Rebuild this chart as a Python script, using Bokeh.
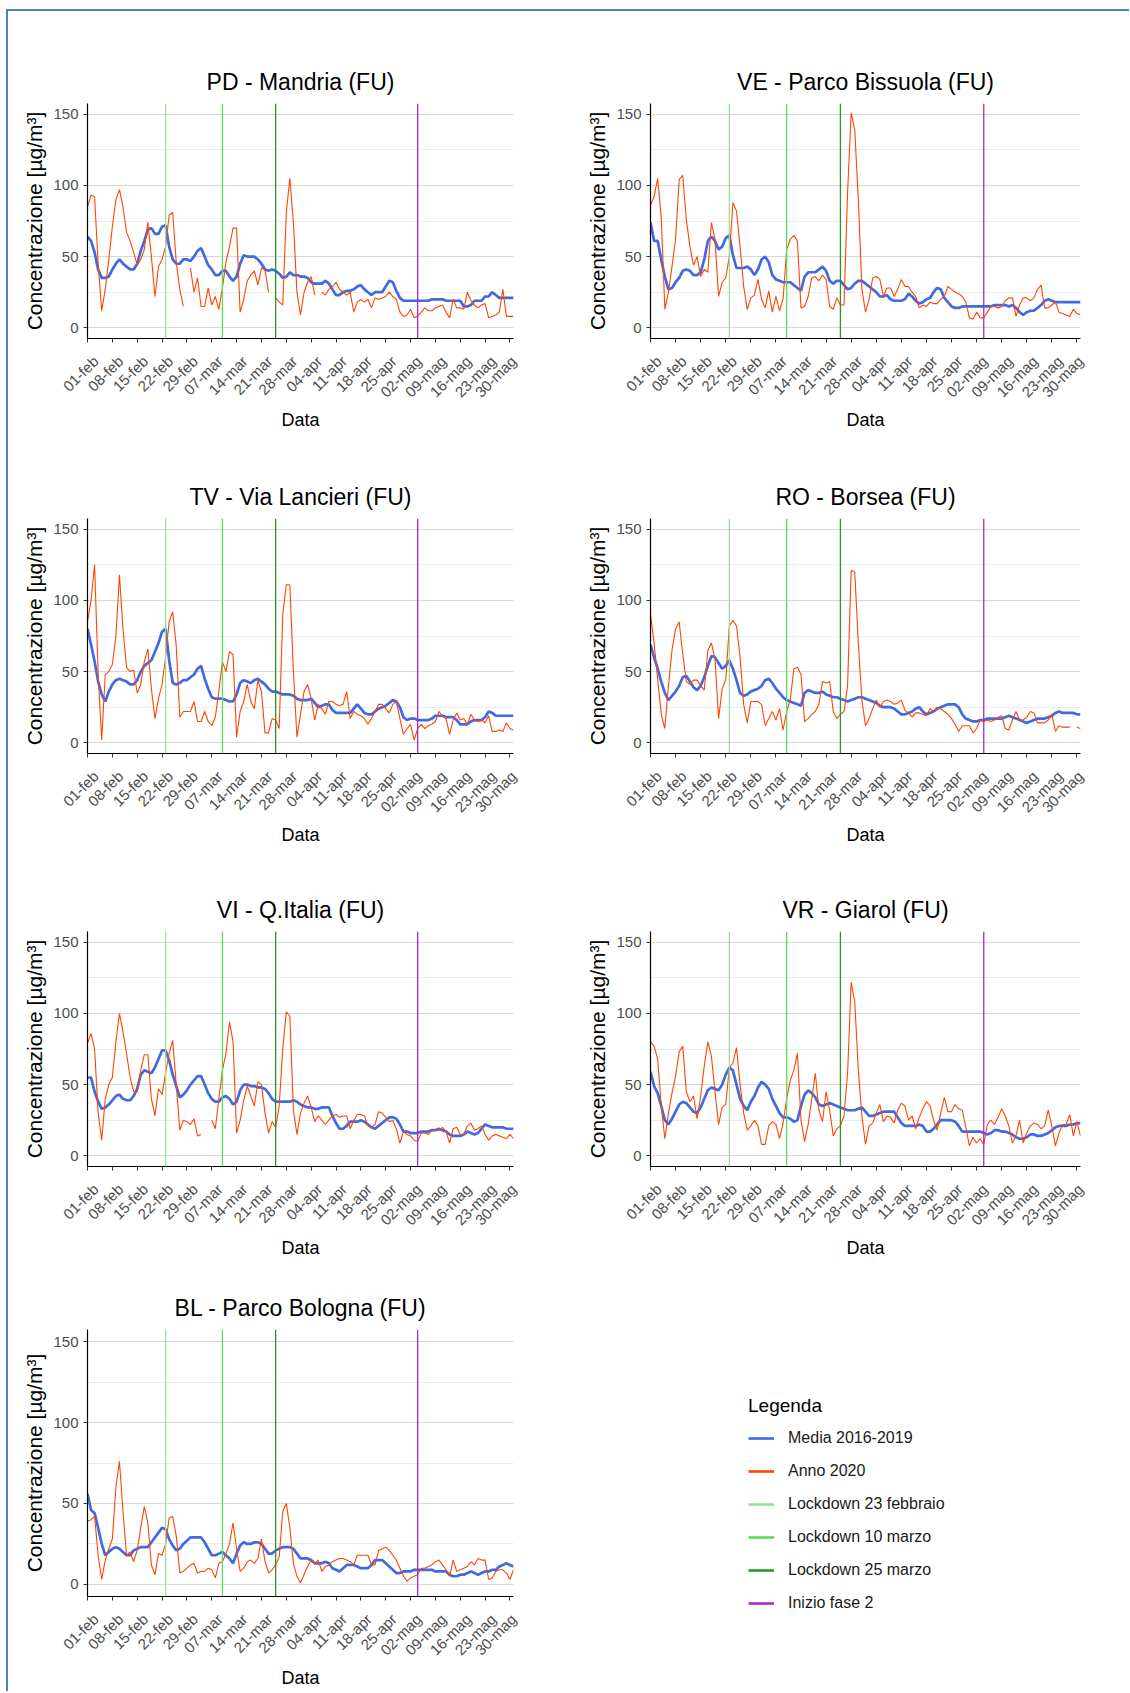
import math
import pandas as pd
from bokeh.plotting import figure
from bokeh.models import Range1d, FixedTicker, Span, Legend, LegendItem, LinearAxis
from bokeh.layouts import row, column
from bokeh.embed import file_html
from bokeh.resources import INLINE

nan = float("nan")

# ---------------- data ----------------
start_date = "2020-02-01"
end_date = "2020-05-31"
last_tick = "2020-05-30"
month_names = {2: "feb", 3: "mar", 4: "apr", 5: "mag"}

y_ticks = [0, 50, 100, 150]
y_minor = [25, 75, 125]

event_dates = ["2020-02-23", "2020-03-10", "2020-03-25", "2020-05-04"]
event_names = ["Lockdown 23 febbraio", "Lockdown 10 marzo", "Lockdown 25 marzo", "Inizio fase 2"]
event_colors = ["#98E098", "#55E055", "#2A952A", "#A828D0"]

series_names = ["Media 2016-2019", "Anno 2020"]
series_colors = ["#4169E1", "#FF4500"]

titles = ["PD - Mandria (FU)", "VE - Parco Bissuola (FU)", "TV - Via Lancieri (FU)",
          "RO - Borsea (FU)", "VI - Q.Italia (FU)", "VR - Giarol (FU)", "BL - Parco Bologna (FU)"]

pd_2020 = [85, 93, 92, 45, 12, 27, 48, 71, 90, 97,
           85, 67, 61, 53, 44, 48, 55, 74, 50, 22,
           43, 48, 57, 79, 81, 46, 27, 15, nan, 42,
           25, 35, 15, 15, 28, 16, 22, 13, 28, 46,
           57, 70, 70, 11, 20, 33, 37, 40, 30, 42,
           41, 25, nan, 21, 18, 16, 81, 105, 74, 25,
           9, 25, 32, 36, 23, nan, 25, 23, 27, 29,
           32, 27, 25, 23, 25, 11, 18, 20, 18, 20,
           14, 21, 20, 21, 22, 25, 22, 20, 11, 8,
           9, 13, 7, 8, 11, 14, 12, 12, 14, 15,
           16, 11, 7, 20, 14, 14, 13, 25, 19, 16,
           14, 16, 17, 7, 8, 9, 11, 27, 8, 8,
           8]
pd_media = [64, 61, 53, 41, 35, 35, 36, 41, 45, 48,
            45, 43, 41, 41, 45, 54, 61, 69, 70, 66,
            66, 71, 72, 57, 48, 45, 45, 48, 48, 47,
            50, 54, 56, 50, 44, 41, 37, 37, 40, 40,
            36, 33, 36, 45, 51, 50, 50, 50, 48, 45,
            41, 40, 41, 40, 38, 35, 36, 39, 37, 37,
            36, 36, 35, 32, 31, 31, 31, 33, 31, 27,
            23, 23, 25, 26, 26, 27, 29, 30, 27, 25,
            23, 25, 25, 25, 29, 33, 32, 26, 21, 19,
            19, 19, 19, 19, 19, 19, 19, 20, 20, 20,
            20, 19, 19, 19, 19, 19, 15, 15, 16, 19,
            19, 19, 22, 22, 25, 23, 21, 21, 21, 21,
            21]

ve_2020 = [86, 92, 105, 78, 13, 25, 43, 62, 104, 107,
           76, 57, 44, 50, 36, 41, 39, 74, 62, 22,
           32, 35, 50, 88, 82, 57, 29, 13, 21, 23,
           34, 20, 14, 26, 11, 22, 12, 20, 55, 62,
           65, 61, 14, 15, 22, 35, 36, 33, 37, 34,
           15, 13, 21, 16, 16, 95, 151, 139, 90, 27,
           11, 20, 35, 36, 34, 22, 28, 28, 22, 27,
           34, 29, 29, 25, 22, 14, 16, 15, 18, 17,
           17, 20, 22, 29, 27, 25, 24, 22, 18, 7,
           6, 11, 7, 7, 11, 15, 15, 14, 15, 19,
           21, 21, 8, 16, 21, 21, 19, 21, 27, 30,
           14, 14, 16, 18, 11, 10, 9, 8, 13, 10,
           9]
ve_media = [74, 61, 61, 48, 36, 27, 28, 32, 35, 40,
            41, 40, 37, 37, 39, 48, 61, 64, 61, 55,
            57, 63, 65, 51, 42, 42, 42, 43, 41, 37,
            41, 48, 50, 46, 37, 34, 33, 32, 32, 32,
            30, 28, 26, 36, 39, 39, 39, 41, 43, 40,
            33, 31, 33, 33, 30, 27, 28, 31, 33, 33,
            31, 29, 27, 25, 22, 22, 23, 20, 19, 19,
            19, 20, 24, 22, 19, 17, 18, 20, 21, 25,
            28, 27, 21, 18, 15, 14, 14, 15, 15, 15,
            15, 15, 15, 15, 15, 15, 16, 16, 16, 16,
            15, 16, 14, 11, 9, 11, 12, 12, 14, 16,
            19, 20, 19, 18, 18, 18, 18, 18, 18, 18,
            18]

tv_2020 = [85, 100, 125, 48, 2, 48, 50, 55, 75, 118,
           80, 53, 50, 51, 35, 41, 57, 66, 38, 17,
           31, 41, 60, 85, 92, 68, 18, 22, 22, 22,
           29, 15, 15, 22, 15, 12, 18, 36, 57, 50,
           64, 62, 4, 22, 29, 41, 29, 24, 44, 36,
           7, 7, 17, 16, 10, 90, 111, 111, 50, 4,
           20, 36, 41, 31, 16, 27, 24, 20, 29, 29,
           27, 26, 27, 36, 17, 22, 20, 19, 17, 13,
           17, 22, 27, 27, 24, 21, 27, 29, 17, 6,
           10, 13, 2, 10, 13, 10, 12, 13, 15, 22,
           19, 17, 6, 16, 21, 16, 17, 13, 20, 16,
           15, 16, 14, 19, 8, 8, 9, 8, 14, 10,
           9]
tv_media = [80, 69, 57, 43, 34, 29, 36, 41, 44, 45,
            44, 43, 41, 41, 44, 50, 54, 56, 58, 64,
            70, 78, 80, 58, 42, 41, 42, 44, 44, 46,
            48, 52, 54, 45, 38, 32, 31, 31, 31, 30,
            29, 29, 34, 42, 44, 43, 42, 44, 45, 43,
            41, 38, 36, 36, 35, 34, 34, 34, 33, 31,
            30, 30, 30, 31, 28, 25, 26, 27, 27, 23,
            21, 21, 21, 21, 21, 24, 27, 24, 21, 20,
            20, 22, 24, 25, 26, 28, 30, 29, 25, 18,
            16, 17, 17, 16, 16, 16, 16, 17, 19, 19,
            19, 18, 18, 18, 16, 13, 13, 13, 15, 16,
            16, 16, 18, 22, 21, 19, 19, 19, 19, 19,
            19]

ro_2020 = [90, 70, 45, 20, 10, 40, 65, 80, 85, 62,
           43, 41, 44, 44, 40, 37, 65, 70, 59, 17,
           38, 44, 82, 86, 82, 60, 27, 14, 29, 29,
           29, 27, 12, 17, 22, 16, 24, 9, 22, 30,
           52, 53, 48, 15, 17, 20, 22, 27, 43, 42,
           43, 22, 17, 20, 22, 40, 121, 120, 70, 30,
           12, 17, 24, 30, 25, 29, 30, 29, 27, 28,
           30, 23, 21, 18, 21, 21, 20, 19, 24, 22,
           25, 24, 22, 20, 17, 13, 8, 12, 12, 12,
           7, 10, 16, 15, 16, 15, 16, 18, 19, 10,
           9, 16, 22, 16, 16, 18, 22, 21, 14, 14,
           14, 16, 20, 8, 12, 11, 11, 11, nan, 11,
           10]
ro_media = [69, 60, 52, 43, 35, 30, 33, 36, 40, 46,
            47, 43, 39, 37, 40, 46, 54, 61, 60, 56,
            52, 54, 58, 52, 44, 35, 33, 34, 36, 37,
            38, 40, 44, 45, 42, 38, 35, 32, 30, 29,
            28, 27, 26, 35, 37, 36, 35, 35, 36, 34,
            33, 32, 32, 31, 30, 29, 30, 31, 32, 32,
            31, 30, 29, 28, 26, 25, 25, 25, 24, 22,
            20, 20, 21, 22, 24, 25, 22, 20, 21, 22,
            24, 25, 26, 27, 27, 27, 25, 20, 17, 16,
            15, 15, 16, 16, 17, 17, 17, 17, 17, 18,
            19, 18, 17, 16, 15, 14, 15, 16, 17, 17,
            17, 18, 19, 21, 22, 21, 21, 21, 21, 20,
            20]

vi_2020 = [79, 86, 75, 30, 11, 40, 50, 55, 80, 100,
           87, 72, 55, 45, 45, 60, 71, 71, 40, 28,
           47, 43, 58, 72, 81, 50, 18, 25, 24, 22,
           26, 14, 15, nan, nan, 25, 19, 40, 60, 72,
           94, 80, 16, 25, 39, 49, 42, 35, 52, 50,
           30, 16, 24, 20, 35, 75, 101, 98, 32, 15,
           30, 37, 42, 34, 24, 28, 25, 22, 25, 28,
           29, 27, 28, 28, 19, 25, 29, 29, 28, 21,
           20, 22, 31, 30, 27, 24, 25, 19, 9, 17,
           15, 14, 11, 10, 16, 16, 15, 18, 18, 18,
           20, 17, 9, 19, 20, 15, 15, 21, 23, 18,
           19, 21, 15, 11, 14, 15, 14, 13, 12, 15,
           12]
vi_media = [55, 55, 45, 38, 33, 34, 36, 39, 42, 43,
            40, 39, 39, 42, 47, 57, 60, 59, 58, 62,
            68, 74, 74, 67, 57, 49, 41, 43, 46, 50,
            53, 56, 56, 50, 44, 40, 38, 38, 41, 42,
            40, 36, 38, 46, 50, 50, 49, 49, 48, 48,
            47, 44, 40, 38, 38, 38, 38, 38, 39, 38,
            36, 35, 34, 34, 33, 33, 34, 34, 34, 28,
            23, 19, 19, 21, 24, 24, 24, 25, 24, 22,
            20, 19, 21, 23, 25, 27, 27, 26, 22, 17,
            17, 16, 16, 16, 17, 17, 17, 18, 18, 19,
            18, 17, 15, 14, 14, 14, 15, 17, 16, 15,
            16, 19, 22, 21, 20, 20, 20, 20, 19, 19,
            19]

vr_2020 = [80, 77, 68, 35, 12, 30, 44, 56, 73, 77,
           45, 38, 42, 26, 42, 63, 80, 70, 45, 22,
           34, 36, 62, 65, 76, 50, 30, 18, 21, 25,
           21, 8, 8, 21, 24, 22, 12, 23, 40, 53,
           60, 72, 25, 10, 22, 40, 58, 32, 24, 45,
           32, 14, 19, 21, 28, 58, 122, 108, 60, 28,
           8, 21, 23, 30, 36, 24, 28, 27, 23, 32,
           37, 35, 25, 28, 19, 27, 33, 38, 35, 25,
           18, 30, 41, 31, 31, 36, 33, 32, 20, 7,
           13, 9, 12, 8, 22, 25, 22, 27, 33, 28,
           21, 9, 14, 25, 9, 16, 21, 23, 22, 19,
           21, 32, 21, 7, 16, 22, 22, 29, 14, 24,
           14]
vr_media = [59, 49, 44, 35, 25, 22, 26, 31, 36, 38,
            37, 34, 31, 30, 34, 40, 46, 48, 47, 46,
            50, 57, 62, 60, 50, 40, 35, 32, 38, 42,
            48, 52, 50, 47, 40, 35, 30, 27, 27, 26,
            24, 25, 35, 43, 46, 44, 41, 36, 35, 36,
            37, 36, 35, 34, 33, 32, 32, 32, 33, 34,
            31, 28, 28, 29, 30, 31, 31, 31, 31, 27,
            23, 21, 21, 21, 21, 22, 21, 17, 17, 19,
            22, 25, 25, 25, 25, 24, 21, 17, 17, 17,
            17, 17, 17, 16, 15, 16, 18, 18, 17, 17,
            16, 15, 13, 12, 12, 13, 15, 15, 14, 14,
            15, 16, 18, 20, 21, 21, 21, 22, 22, 23,
            23]

bl_2020 = [39, 40, 42, 18, 3, 15, 22, 28, 60, 76,
           45, 18, 20, 14, 21, 35, 48, 38, 12, 6,
           19, 18, 25, 41, 42, 30, 7, 8, 10, 12,
           13, 7, 8, 8, 10, 9, 4, 13, 14, 19,
           25, 38, 22, 8, 10, 14, 15, 13, 16, 28,
           14, 7, 9, 12, 17, 45, 50, 35, 13, 5,
           1, 6, 11, 15, 13, 15, 8, 11, 12, 14,
           15, 16, 16, 15, 14, 12, 18, 18, 18, 18,
           12, 12, 21, 22, 23, 21, 18, 15, 10, 5,
           2, 4, 5, 6, 10, 10, 11, 12, 14, 15,
           12, 9, 5, 15, 8, 9, 10, 11, 14, 12,
           16, 15, 15, 3, 4, 8, 9, 9, 7, 3,
           9]
bl_media = [56, 46, 44, 35, 25, 18, 20, 22, 23, 22,
            20, 18, 18, 21, 22, 23, 23, 23, 26, 29,
            32, 35, 34, 28, 24, 21, 22, 25, 27, 29,
            29, 29, 29, 26, 22, 18, 18, 19, 20, 18,
            16, 13, 19, 24, 26, 25, 25, 26, 26, 25,
            22, 19, 19, 21, 22, 23, 23, 23, 22, 19,
            16, 16, 16, 15, 13, 13, 13, 14, 13, 10,
            9, 8, 10, 12, 12, 12, 11, 10, 10, 10,
            12, 15, 15, 15, 13, 11, 9, 7, 7, 8,
            8, 8, 9, 9, 9, 9, 9, 9, 8, 8,
            8, 8, 6, 5, 5, 6, 6, 7, 8, 7,
            6, 7, 8, 8, 9, 9, 11, 12, 13, 12,
            11]

media_all = [pd_media, ve_media, tv_media, ro_media, vi_media, vr_media, bl_media]
anno_all = [pd_2020, ve_2020, tv_2020, ro_2020, vi_2020, vr_2020, bl_2020]

# ---------------- derived axes ----------------
dates = pd.date_range(start_date, end_date, freq="D")
day_x = [(d - dates[0]).days for d in dates]
tick_dates = pd.date_range(start_date, last_tick, freq="7D")
tick_x = [(d - dates[0]).days for d in tick_dates]
tick_labels = [f"{d.day:02d}-{month_names[d.month]}" for d in tick_dates]
event_x = [(pd.Timestamp(d) - dates[0]).days for d in event_dates]

FONT = "Liberation Sans"
LABEL_SHIFT_DAYS = 2.3  # rotated labels hang slightly right of their tick, as in the original
label_pos = [round(min(t + LABEL_SHIFT_DAYS, day_x[-1]), 2) for t in tick_x]


def panel(title, media, anno, left_col, frame_h, top, bottom):
    if left_col:
        bl, fw, br = 79, 426, 52
    else:
        bl, fw, br = 85, 430, 40
    p = figure(frame_width=fw, frame_height=frame_h,
               min_border_left=bl, min_border_right=br,
               min_border_top=top, min_border_bottom=bottom,
               x_range=Range1d(day_x[0], day_x[-1]), y_range=Range1d(-7.5, 157.5),
               toolbar_location=None, output_backend="svg", title=title)
    p.outline_line_color = None
    p.background_fill_color = "white"
    p.border_fill_color = "white"
    p.title.align = "center"
    p.title.text_font = FONT
    p.title.text_font_size = "23px"
    p.title.text_font_style = "normal"
    p.title.text_color = "#000000"
    p.title.standoff = 17

    p.line(day_x, media, line_color=series_colors[0], line_width=2.7)
    p.line(day_x, anno, line_color=series_colors[1], line_width=1.1)
    for ex, ec in zip(event_x, event_colors):
        p.add_layout(Span(location=ex, dimension="height", line_color=ec, line_width=1.3))

    # primary x axis: line + tick marks only
    xa = p.xaxis[0]
    xa.ticker = FixedTicker(ticks=tick_x)
    xa.major_label_text_font_size = "0px"
    xa.major_label_text_color = None
    xa.major_label_standoff = 0
    # second x axis below it: rotated date labels and the axis title
    xb = LinearAxis(ticker=FixedTicker(ticks=label_pos),
                    major_label_overrides={lp: l for lp, l in zip(label_pos, tick_labels)},
                    major_label_orientation=math.pi / 4,
                    axis_line_color=None, major_tick_line_color=None,
                    minor_tick_line_color=None, major_tick_in=0, major_tick_out=0,
                    major_label_standoff=16,
                    major_label_text_font=FONT, major_label_text_font_size="15px",
                    major_label_text_color="#4D4D4D",
                    axis_label="Data", axis_label_text_font=FONT,
                    axis_label_text_font_size="18px", axis_label_text_font_style="normal",
                    axis_label_text_color="#000000", axis_label_standoff=1)
    p.add_layout(xb, "below")

    p.yaxis.ticker = FixedTicker(ticks=y_ticks, minor_ticks=y_minor)
    p.yaxis.axis_label = "Concentrazione [µg/m³]"
    for ax in (xa, p.yaxis[0]):
        ax.axis_line_color = "black"
        ax.axis_line_width = 1.2
        ax.major_tick_line_color = "#333333"
        ax.major_tick_in = 0
        ax.major_tick_out = 4
        ax.minor_tick_line_color = None
    ya = p.yaxis[0]
    ya.major_label_text_font = FONT
    ya.major_label_text_color = "#4D4D4D"
    ya.major_label_text_font_size = "15px"
    ya.major_label_standoff = 5
    ya.axis_label_text_font = FONT
    ya.axis_label_text_font_style = "normal"
    ya.axis_label_text_color = "#000000"
    ya.axis_label_text_font_size = "21px"
    ya.axis_label_standoff = 4
    p.xgrid.grid_line_color = None
    p.ygrid.grid_line_color = "#D6D6D6"
    p.ygrid.grid_line_width = 1.1
    p.ygrid.minor_grid_line_color = "#EBEBEB"
    p.ygrid.minor_grid_line_width = 1.1
    return p


rows_spec = [(235, 92, 95), (235, 85, 95), (235, 83, 95), (267, 68, 85)]
panels = []
for i, (t, m, a) in enumerate(zip(titles, media_all, anno_all)):
    fh, top, bottom = rows_spec[i // 2]
    panels.append(panel(t, m, a, i % 2 == 0, fh, top, bottom))

# legend panel: frame top aligned with its row neighbour, frame reaching the bottom
lf = figure(frame_width=372, frame_height=352, min_border_left=183, min_border_top=68,
            min_border_right=0, min_border_bottom=0,
            x_range=Range1d(0, 1), y_range=Range1d(0, 1),
            toolbar_location=None, output_backend="svg",
            x_axis_location=None, y_axis_location=None)
lf.grid.visible = False
lf.outline_line_color = None
items = []
for name, color in list(zip(series_names, series_colors)) + list(zip(event_names, event_colors)):
    r = lf.line(x=[nan], y=[nan], line_color=color, line_width=2.6)
    items.append(LegendItem(label=name, renderers=[r]))
leg = Legend(items=items, title="Legenda", location=(0, 68),
             glyph_width=26, glyph_height=20, label_height=20, label_standoff=14,
             spacing=13, padding=0, margin=0, border_line_color=None,
             background_fill_alpha=0, title_standoff=11,
             label_text_font=FONT, label_text_font_size="16px", label_text_color="#1A1A1A",
             title_text_font=FONT, title_text_font_size="19px", title_text_font_style="normal",
             title_text_color="#000000")
lf.add_layout(leg)

layout = column(
    row(panels[0], panels[1]),
    row(panels[2], panels[3]),
    row(panels[4], panels[5]),
    row(panels[6], lf),
    styles={"margin-left": "6px", "margin-top": "9px", "padding-right": "9px",
            "border-left": "2px solid #4F81BD", "border-top": "2px solid #4F81BD"},
)

open("out.html", "w").write(file_html(layout, INLINE))
